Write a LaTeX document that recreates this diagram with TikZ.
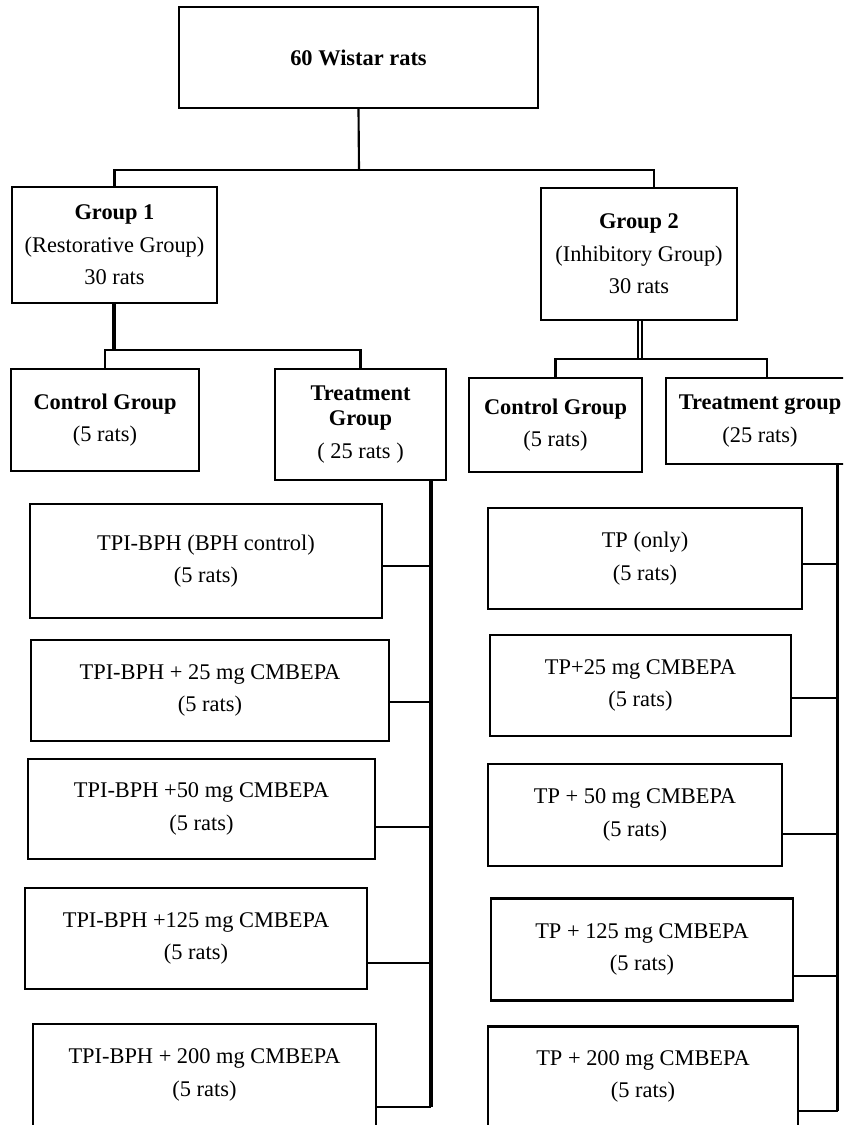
\documentclass[tikz,border=0pt]{standalone}
\usepackage{fontspec}
\setmainfont{Liberation Serif}
\newdimen\px \px=0.75pt
\tikzset{
  box/.style={draw, line width=1.65pt, inner sep=0pt, align=center,
    font=\fontsize{16.8}{24.5}\selectfont},
  conn/.style={line width=1.6pt},
  thickconn/.style={line width=2.5pt},
  dbl/.style={double, double distance=1.5pt, line width=1.4pt}
}
\begin{document}
\begin{tikzpicture}[x=0.75pt,y=-0.75pt]
\useasboundingbox (0,0) rectangle (843,1125);
\fill[white] (0,0) rectangle (843,1125);
\clip (0,0) rectangle (843,1125);

% top level
\node[box, minimum width=359\px, minimum height=101\px] (top) at (358.5,57.5) {\textbf{60 Wistar rats}};
\node[box, minimum width=205\px, minimum height=116\px] (g1) at (114.5,245) {\textbf{Group 1}\\(Restorative Group)\\30 rats};
\node[box, minimum width=196\px, minimum height=132\px] (g2) at (639,254) {\textbf{Group 2}\\(Inhibitory Group)\\30 rats};

% second level
\node[box, minimum width=188\px, minimum height=102\px] (cl) at (105,420) {\textbf{Control Group}\\(5 rats)};
\node[box, minimum width=171\px, minimum height=111\px] (tl) at (360.5,424.5) {\textbf{Treatment}\\[-5.8pt]\textbf{Group}\\( 25 rats )};
\node[box, minimum width=173\px, minimum height=94\px] (cr) at (555.5,425) {\textbf{Control Group}\\(5 rats)};
\node[box, minimum width=188\px, minimum height=86\px] (tr) at (760,421) {\textbf{Treatment group}\\(25 rats)};

% left column
\node[box, minimum width=352\px, minimum height=114\px] (b0) at (206,561) {TPI-BPH (BPH control)\\(5 rats)};
\node[box, minimum width=358\px, minimum height=101\px] (b1) at (210,690.5) {TPI-BPH + 25 mg CMBEPA\\(5 rats)};
\node[box, minimum width=347\px, minimum height=100\px] (b2) at (201.5,809) {TPI-BPH +50 mg CMBEPA\\(5 rats)};
\node[box, minimum width=342\px, minimum height=101\px] (b3) at (196,938.5) {TPI-BPH +125 mg CMBEPA\\(5 rats)};
\node[box, minimum width=343\px, minimum height=102\px] (b4) at (204.5,1075) {TPI-BPH + 200 mg CMBEPA\\(5 rats)};

% right column
\node[box, minimum width=314\px, minimum height=101\px] (r0) at (645,558.5) {TP (only)\\(5 rats)};
\node[box, minimum width=301\px, minimum height=101\px] (r1) at (640.5,685.5) {TP+25 mg CMBEPA\\(5 rats)};
\node[box, minimum width=294\px, minimum height=102\px] (r2) at (635,815) {TP + 50 mg CMBEPA\\(5 rats)};
\node[box, minimum width=302\px, minimum height=102\px] (r3) at (642,949.5) {TP + 125 mg CMBEPA\\(5 rats)};
\node[box, minimum width=310\px, minimum height=100\px] (r4) at (643,1076.5) {TP + 200 mg CMBEPA\\(5 rats)};

% junction coordinates
\coordinate (j0) at (359,170);
\coordinate (j2) at (654,170);
\coordinate (k0) at (114,350);
\coordinate (m0) at (640,359);
\coordinate (m1) at (767,359);
\coordinate (sl0) at (431,566);
\coordinate (sl1) at (431,702);
\coordinate (sl2) at (431,827);
\coordinate (sl3) at (431,963);
\coordinate (sl4) at (431,1107);
\coordinate (sr0) at (837.5,564);
\coordinate (sr1) at (837.5,698);
\coordinate (sr2) at (837.5,834);
\coordinate (sr3) at (837.5,976);
\coordinate (sr4) at (837.5,1111);

% top connectors
\draw[conn] (top.south) -- (j0);
\draw[conn] (g1.north) |- (j2) -- (j2 |- g2.north);

% group 1 connectors
\draw[thickconn] (g1.south -| k0) -- (k0);
\draw[conn] (cl.north) |- (tl.north |- k0) -- (tl.north);

% group 2 connectors
\draw[dbl] (g2.south -| m0) -- (m0);
\draw[conn] (cr.north) |- (m1) -- (m1 |- tr.north);

% left spine
\draw[thickconn] (tl.south -| sl4) -- (sl4);
\draw[conn] (b0.east |- sl0) -- (sl0);
\draw[conn] (b1.east |- sl1) -- (sl1);
\draw[conn] (b2.east |- sl2) -- (sl2);
\draw[conn] (b3.east |- sl3) -- (sl3);
\draw[conn] (b4.east |- sl4) -- (sl4);

% right spine
\draw[thickconn] (tr.south -| sr4) -- (sr4);
\draw[conn] (r0.east |- sr0) -- (sr0);
\draw[conn] (r1.east |- sr1) -- (sr1);
\draw[conn] (r2.east |- sr2) -- (sr2);
\draw[conn] (r3.east |- sr3) -- (sr3);
\draw[conn] (r4.east |- sr4) -- (sr4);
\end{tikzpicture}
\end{document}
